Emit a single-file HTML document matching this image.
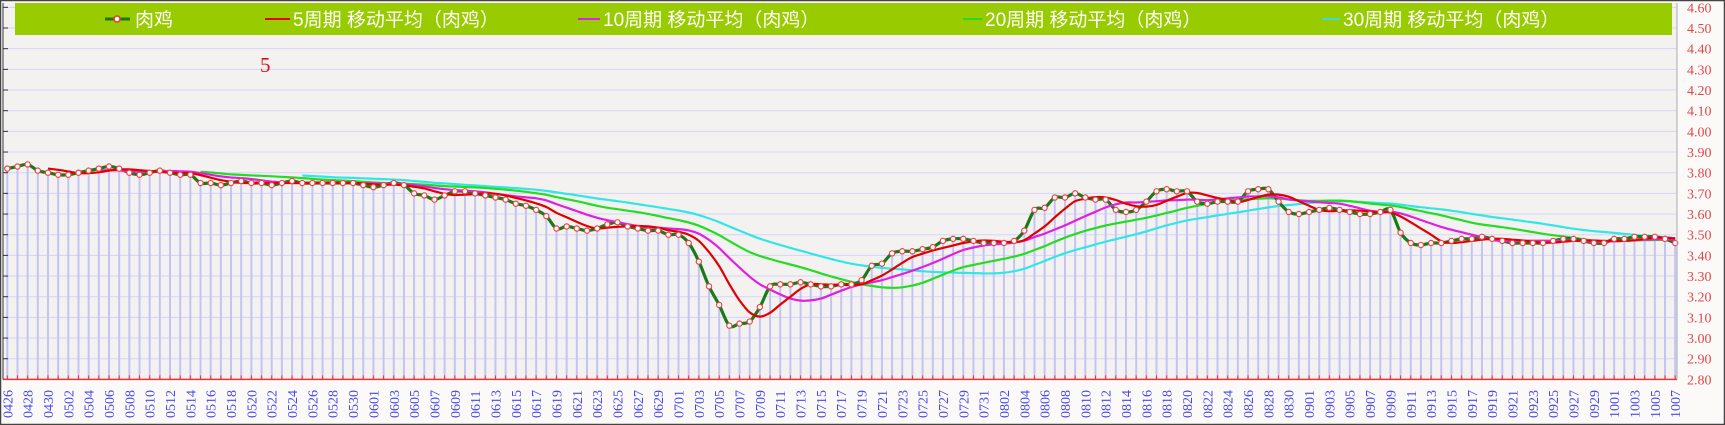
<!DOCTYPE html>
<html><head><meta charset="utf-8">
<style>
html,body{margin:0;padding:0;background:#fff;}
svg{display:block;}
</style></head>
<body>
<svg id="c" width="1725" height="425" xmlns="http://www.w3.org/2000/svg">
<rect x="0.5" y="0.5" width="1724" height="424" fill="#fbfaf9" stroke="#444" stroke-width="1.5"/>
<rect x="4" y="3" width="1673" height="376" fill="#f4f2f1"/>
<g id="grid"></g>
<g id="bars"></g>
<g id="lines"></g>
<rect x="15" y="3" width="1657" height="32" fill="#99cc00"/>
<g font-family="'Liberation Sans','Noto Sans CJK SC',sans-serif" font-size="19" fill="#fff">
<line x1="105" y1="19" x2="130" y2="19" stroke="#1a7a1a" stroke-width="3"/>
<circle cx="117" cy="19" r="3" fill="#fff" stroke="#e33" stroke-width="1.5"/>
<text x="135" y="26">肉鸡</text>
<line x1="265" y1="19" x2="290" y2="19" stroke="#e00" stroke-width="2"/>
<text x="293" y="26">5周期 移动平均（肉鸡）</text>
<line x1="578" y1="19" x2="600" y2="19" stroke="#e020e0" stroke-width="2"/>
<text x="603" y="26">10周期 移动平均（肉鸡）</text>
<line x1="963" y1="19" x2="982" y2="19" stroke="#22dd22" stroke-width="2"/>
<text x="985" y="26">20周期 移动平均（肉鸡）</text>
<line x1="1322" y1="19" x2="1340" y2="19" stroke="#33e0e0" stroke-width="2"/>
<text x="1343" y="26">30周期 移动平均（肉鸡）</text>
</g>
<text x="260" y="72" font-family="'Liberation Serif',serif" font-size="21" fill="#dd1111">5</text>
<g id="axes"></g>
</svg>
<script>
var d=[3.82,3.83,3.84,3.81,3.80,3.79,3.79,3.80,3.81,3.82,3.83,3.82,3.80,3.79,3.80,3.81,3.80,3.79,3.79,3.75,3.75,3.74,3.75,3.76,3.75,3.75,3.74,3.75,3.76,3.75,3.75,3.75,3.75,3.75,3.75,3.74,3.73,3.74,3.75,3.74,3.70,3.69,3.67,3.69,3.71,3.71,3.70,3.69,3.68,3.67,3.65,3.64,3.62,3.59,3.53,3.54,3.53,3.52,3.53,3.55,3.56,3.54,3.53,3.52,3.52,3.50,3.50,3.46,3.37,3.25,3.16,3.06,3.07,3.08,3.15,3.25,3.26,3.26,3.27,3.26,3.25,3.25,3.26,3.26,3.28,3.35,3.36,3.41,3.42,3.42,3.43,3.44,3.47,3.48,3.48,3.47,3.46,3.46,3.46,3.47,3.52,3.62,3.63,3.68,3.68,3.70,3.68,3.67,3.67,3.62,3.61,3.62,3.66,3.71,3.72,3.71,3.71,3.66,3.65,3.66,3.66,3.66,3.71,3.72,3.72,3.66,3.61,3.60,3.61,3.62,3.63,3.62,3.61,3.60,3.60,3.61,3.62,3.51,3.46,3.45,3.46,3.46,3.47,3.48,3.48,3.49,3.48,3.47,3.46,3.46,3.46,3.46,3.47,3.48,3.48,3.47,3.46,3.46,3.48,3.48,3.49,3.49,3.49,3.48,3.46];
var NS="http://www.w3.org/2000/svg";
function X(i){return 7.3+i*10.17;}
function Y(v){return 172.7-(v-3.8)*206.7;}
function el(p,t,a,txt){var e=document.createElementNS(NS,t);for(var k in a)e.setAttribute(k,a[k]);if(txt!==undefined)e.textContent=txt;document.getElementById(p).appendChild(e);return e;}
for(var k=0;k<=18;k++){var v=2.8+k*0.1,y=Y(v);
 if(k>0)el('grid','line',{x1:4,x2:1677,y1:y,y2:y,stroke:'#d4d4f6','stroke-width':1});
 el('axes','line',{x1:3,x2:8,y1:y,y2:y,stroke:'#333','stroke-width':1});
 el('axes','text',{x:1687,y:y+5,'font-family':"'Liberation Serif',serif",'font-size':14,fill:'#e04848'},v.toFixed(2));
}
var ab=Y(2.8);
for(var i=0;i<d.length;i++){el('bars','line',{x1:X(i),x2:X(i),y1:ab,y2:Y(d[i]),stroke:'#c4c4f4','stroke-width':2});
 el('axes','line',{x1:X(i),x2:X(i),y1:ab,y2:ab-4,stroke:'#e33','stroke-width':1});}
el('axes','line',{x1:3,x2:1677,y1:ab,y2:ab,stroke:'#e33','stroke-width':1.5});
el('axes','line',{x1:3,x2:3,y1:3,y2:ab,stroke:'#333','stroke-width':1});
el('axes','line',{x1:1677,x2:1677,y1:3,y2:ab,stroke:'#aaa','stroke-width':1});
var mlen=[0,31,28,31,30,31,30,31,31,30,31,30,31];var m=4,dd=26;
for(var i=0;i<d.length;i++){
 if(i%2==0){var s=(m<10?'0':'')+m+(dd<10?'0':'')+dd;var x=X(i)+5;
  el('axes','text',{x:0,y:0,transform:'translate('+x+',418) rotate(-90)','font-family':"'Liberation Serif',serif",'font-size':14,fill:'#4848ee'},s);}
 dd++;if(dd>mlen[m]){dd=1;m++;}
}
function path(pts){var s='M'+pts[0][0]+','+pts[0][1];
 for(var i=0;i<pts.length-1;i++){var p0=pts[Math.max(0,i-1)],p1=pts[i],p2=pts[i+1],p3=pts[Math.min(pts.length-1,i+2)];
  var c1x=p1[0]+(p2[0]-p0[0])/6,c1y=p1[1]+(p2[1]-p0[1])/6,c2x=p2[0]-(p3[0]-p1[0])/6,c2y=p2[1]-(p3[1]-p1[1])/6;
  s+=' C'+c1x.toFixed(1)+','+c1y.toFixed(1)+' '+c2x.toFixed(1)+','+c2y.toFixed(1)+' '+p2[0].toFixed(1)+','+p2[1].toFixed(1);}
 return s;}
function ma(n){var r=[];for(var i=n-1;i<d.length;i++){var s=0;for(var j=i-n+1;j<=i;j++)s+=d[j];r.push([X(i),Y(s/n)]);}return r;}
var raw=d.map(function(v,i){return [X(i),Y(v)];});
el('lines','path',{d:path(ma(30)),fill:'none',stroke:'#33e6e6','stroke-width':2.2});
el('lines','path',{d:path(ma(20)),fill:'none',stroke:'#22dd22','stroke-width':2.2});
el('lines','path',{d:path(raw),fill:'none',stroke:'#1a7a1a','stroke-width':3.2});
el('lines','path',{d:path(ma(10)),fill:'none',stroke:'#e020e0','stroke-width':2.2});
el('lines','path',{d:path(ma(5)),fill:'none',stroke:'#e00000','stroke-width':2.2});
for(var i=0;i<raw.length;i++)el('lines','circle',{cx:raw[i][0],cy:raw[i][1],r:2.6,fill:'#fff',stroke:'#e44','stroke-width':1.2});
</script>
</body></html>
